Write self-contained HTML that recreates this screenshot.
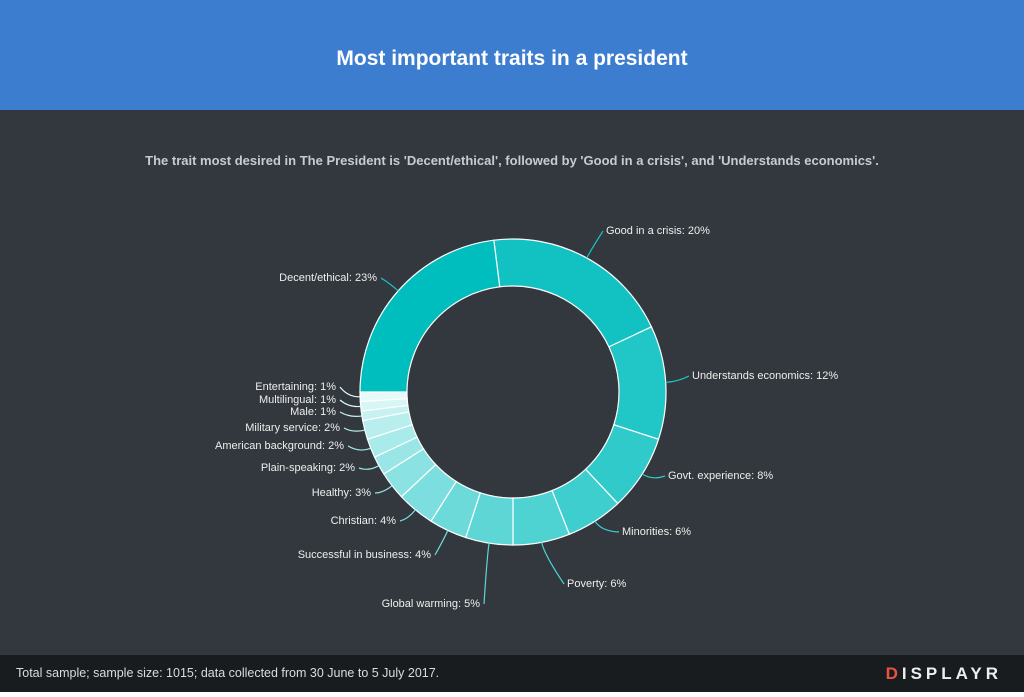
<!DOCTYPE html>
<html><head><meta charset="utf-8"><style>
html,body{margin:0;padding:0;width:1024px;height:697px;overflow:hidden;background:#fff;font-family:"Liberation Sans",sans-serif}
#hdr{position:absolute;left:0;top:0;width:1024px;height:110px;background:#3d7dcf;color:#fff;font-weight:bold;font-size:21px;text-align:center;line-height:118px}
#main{position:absolute;left:0;top:110px;width:1024px;height:545px;background:#32383d}
#sub{position:absolute;top:153px;width:1024px;text-align:center;color:#c9cccf;font-weight:bold;font-size:13px}
#ftr{position:absolute;left:0;top:655px;width:1024px;height:37px;background:#181c1e;color:#dcdcdc;font-size:12.5px}
#ftr .t{position:absolute;left:16px;top:11px}
#ftr .l{position:absolute;right:22px;top:9px;font-size:17px;letter-spacing:4px;color:#eee;font-weight:bold}
svg{position:absolute;left:0;top:0}
svg text{font-family:"Liberation Sans",sans-serif;font-size:11px;fill:#eeeeee}
</style></head><body>
<div id="hdr">Most important traits in a president</div>
<div id="main"></div>
<div id="sub">The trait most desired in The President is 'Decent/ethical', followed by 'Good in a crisis', and 'Understands economics'.</div>
<svg id="s" width="1024" height="697">
<g id="slices"></g><g id="lines"></g>
<text x="606" y="234">Good in a crisis: 20%</text>
<text x="377" y="281" text-anchor="end">Decent/ethical: 23%</text>
<text x="692" y="379">Understands economics: 12%</text>
<text x="668" y="479">Govt. experience: 8%</text>
<text x="622" y="535">Minorities: 6%</text>
<text x="567" y="587">Poverty: 6%</text>
<text x="480" y="607" text-anchor="end">Global warming: 5%</text>
<text x="431" y="558" text-anchor="end">Successful in business: 4%</text>
<text x="396" y="524" text-anchor="end">Christian: 4%</text>
<text x="371" y="496" text-anchor="end">Healthy: 3%</text>
<text x="355" y="471" text-anchor="end">Plain-speaking: 2%</text>
<text x="344" y="449" text-anchor="end">American background: 2%</text>
<text x="340" y="431" text-anchor="end">Military service: 2%</text>
<text x="336" y="415" text-anchor="end">Male: 1%</text>
<text x="336" y="403" text-anchor="end">Multilingual: 1%</text>
<text x="336" y="390" text-anchor="end">Entertaining: 1%</text>
</svg>
<div id="ftr"><span class="t">Total sample; sample size: 1015; data collected from 30 June to 5 July 2017.</span><span class="l"><span style="color:#e8553f">D</span>ISPLAYR</span></div>
<script>
var cx=513,cy=392,R=153,r=106;
var vals=[20,12,8,6,6,5,4,4,3,2,2,2,1,1,1,23];
var lab=[[603,231],[689,376],[665,476],[619,532],[564,584],[484,604],[435,555],[400,521],[375,493],[359,468],[348,446],[344,428],[340,412],[340,400],[340,387],[381,278]];
var a=-7.2,sl='',ln='';
function P(rad,deg){var t=deg*Math.PI/180;return [cx+rad*Math.sin(t),cy-rad*Math.cos(t)];}
for(var i=0;i<vals.length;i++){
 var b=a+vals[i]*3.6,col;
 if(i==15)col='rgb(0,190,190)';else{var f=i/14;col='rgb('+Math.round(18+f*212)+','+Math.round(194+f*56)+','+Math.round(194+f*56)+')';}
 var p1=P(R,a),p2=P(R,b),p3=P(r,b),p4=P(r,a),lg=(b-a)>180?1:0;
 sl+='<path d="M'+p1+'A'+R+','+R+' 0 '+lg+' 1 '+p2+'L'+p3+'A'+r+','+r+' 0 '+lg+' 0 '+p4+'Z" fill="'+col+'" stroke="#fff" stroke-width="1.2"/>';
 var m=P(R,(a+b)/2),L=lab[i];
 ln+='<path d="M'+m+'Q'+P(R+12,(a+b)/2)+' '+L+'" fill="none" stroke="'+(i==15?'#19c3c3':col)+'" stroke-width="1.2"/>';
 a=b;}
document.getElementById('slices').innerHTML=sl;
document.getElementById('lines').innerHTML=ln;
</script>
</body></html>
